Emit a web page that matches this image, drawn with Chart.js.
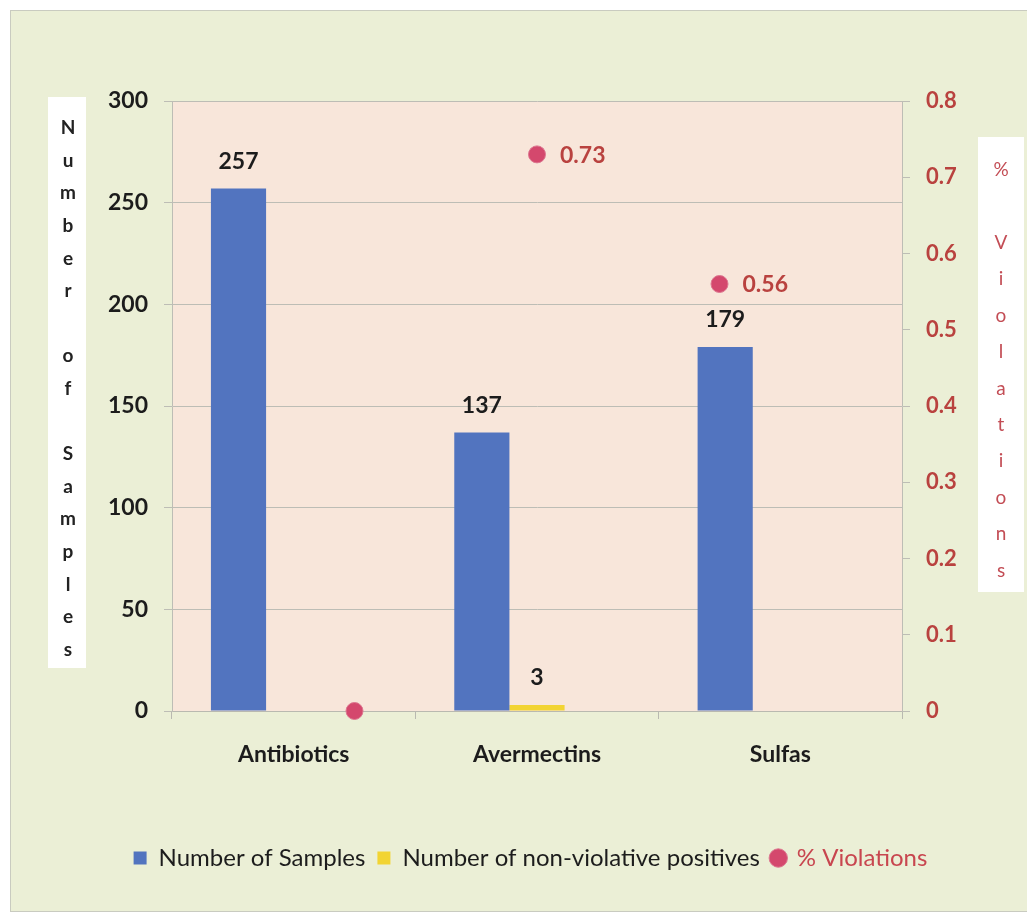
<!DOCTYPE html>
<html>
<head>
<meta charset="utf-8">
<script src="https://cdn.jsdelivr.net/npm/chart.js@4.4.1/dist/chart.umd.min.js"></script>
<style>
  html, body { margin: 0; padding: 0; background: #ffffff; }
  #wrap { position: absolute; left: 0; top: 0; width: 1027px; height: 917px; }
</style>
</head>
<body>
<div id="wrap"><canvas id="myChartCanvas" width="1027" height="917"></canvas></div>
<script>
let categories = ['Antibiotics', 'Avermectins', 'Sulfas'];
let samplesList = [257, 137, 179];
let positivesList = [0, 3, 0];
let violationsList = [0, 0.73, 0.56];
// where each dot sits along the category scale (index units)
let violationsPos = [0.25, 1, 1.75];

let leftTitle = ['N', 'u', 'm', 'b', 'e', 'r', '', 'o', 'f', '', 'S', 'a', 'm', 'p', 'l', 'e', 's'];
let rightTitle = ['%', '', 'V', 'i', 'o', 'l', 'a', 't', 'i', 'o', 'n', 's'];

let redText = '#b9423f';
let ctx;
let chart;

// backgrounds, white title boxes and the letter-by-letter axis titles
const backdrop = {
    id: 'backdrop',
    beforeDraw(c) {
        let g = c.ctx;
        let a = c.chartArea;
        g.save();
        g.fillStyle = '#ebefd6';
        g.fillRect(10, 10, 1017, 902);
        g.strokeStyle = '#c9cbc0';
        g.lineWidth = 1;
        g.strokeRect(10.5, 10.5, 1030, 901);
        g.fillStyle = '#f8e6da';
        g.fillRect(a.left, a.top, a.right - a.left, a.bottom - a.top);

        g.fillStyle = '#ffffff';
        g.fillRect(48, 97, 38, 571);
        g.fillRect(978, 137, 46, 455);

        g.textAlign = 'center';
        g.textBaseline = 'middle';
        g.font = 'bold 19px Lato';
        g.fillStyle = '#222222';
        leftTitle.forEach((ch, i) => g.fillText(ch, 68, 128 + i * 32.6));
        g.font = '19px Lato';
        g.fillStyle = '#c34d55';
        rightTitle.forEach((ch, i) => g.fillText(ch, 1001, 170 + i * 36.4));
        g.restore();
    }
};

// value labels above bars and beside the dots
const valueLabels = {
    id: 'valueLabels',
    afterDatasetsDraw(c) {
        let g = c.ctx;
        g.save();
        g.textBaseline = 'middle';
        g.font = 'bold 23px Lato';
        c.data.datasets.forEach((ds, di) => {
            let meta = c.getDatasetMeta(di);
            if (meta.hidden || ds.label === '') return;
            meta.data.forEach((el, i) => {
                let v = ds.type === 'line' ? ds.data[i].y : ds.data[i];
                if (!v) return;
                if (ds.type === 'line') {
                    g.fillStyle = redText;
                    g.textAlign = 'left';
                    g.fillText(v.toFixed(2), el.x + 23, el.y + 1);
                } else {
                    g.fillStyle = '#1c1c1c';
                    g.textAlign = 'center';
                    g.fillText(String(v), el.x, el.y - 27);
                }
            });
        });
        g.restore();
    }
};

ctx = document.getElementById('myChartCanvas').getContext('2d');
chart = new Chart(ctx, {
    type: 'bar',
    data: {
        labels: categories,
        datasets: [{
            label: 'Number of Samples',
            data: samplesList,
            backgroundColor: '#5274bf',
            yAxisID: 'y'
        }, {
            label: 'Number of non-violative positives',
            data: positivesList,
            backgroundColor: '#f2d433',
            yAxisID: 'y'
        }, {
            // keeps an empty third slot in each group
            label: '',
            data: [null, null, null],
            backgroundColor: 'rgba(0,0,0,0)',
            yAxisID: 'y'
        }, {
            type: 'line',
            label: '% Violations',
            parsing: false,
            data: violationsList.map((v, i) => ({ x: violationsPos[i], y: v })),
            yAxisID: 'y1',
            showLine: false,
            pointStyle: 'circle',
            pointRadius: 8.5,
            pointHoverRadius: 8.5,
            pointBackgroundColor: '#d4486d',
            pointBorderColor: '#dd7790',
            pointBorderWidth: 1,
            backgroundColor: '#d4486d',
            borderColor: '#dd7790',
            clip: false
        }]
    },
    options: {
        responsive: false,
        animation: false,
        events: [],
        datasets: {
            bar: {
                categoryPercentage: 0.68,
                barPercentage: 1.0
            }
        },
        layout: {
            padding: { top: 101, right: 0, bottom: 37, left: 34 }
        },
        scales: {
            x: {
                grid: {
                    display: true,
                    offset: true,
                    drawOnChartArea: false,
                    tickLength: 8,
                    color: '#b9b9b0'
                },
                border: { display: true, color: '#b9b9b0' },
                ticks: {
                    color: '#1c1c1c',
                    font: { family: 'Lato', size: 23, weight: 'bold' },
                    padding: 22
                },
                afterFit(s) { s.height = 123; }
            },
            y: {
                position: 'left',
                min: 0,
                max: 300,
                ticks: {
                    stepSize: 50,
                    color: '#1c1c1c',
                    font: { family: 'Lato', size: 23, weight: 'bold' },
                    padding: 16
                },
                grid: {
                    color: '#bdbdb5',
                    tickLength: 8
                },
                border: { display: true, color: '#bdbdb5' },
                afterFit(s) { s.width = 138; }
            },
            y1: {
                position: 'right',
                min: 0,
                max: 0.8,
                ticks: {
                    stepSize: 0.1,
                    color: redText,
                    font: { family: 'Lato', size: 22, weight: 'bold' },
                    padding: 16,
                    callback: v => String(Math.round(v * 10) / 10)
                },
                grid: {
                    drawOnChartArea: false,
                    color: '#bdbdb5',
                    tickLength: 8
                },
                border: { display: true, color: '#bdbdb5' },
                afterFit(s) { s.width = 125; }
            }
        },
        plugins: {
            legend: {
                position: 'bottom',
                labels: {
                    usePointStyle: true,
                    boxWidth: 13,
                    boxHeight: 13,
                    padding: 12,
                    font: { family: 'Lato', size: 24 },
                    color: '#1c1c1c',
                    filter: item => item.text !== '',
                    sort: (a, b) => a.datasetIndex - b.datasetIndex,
                    generateLabels(c) {
                        let items = Chart.defaults.plugins.legend.labels.generateLabels(c);
                        items.forEach(it => {
                            if (it.text === '% Violations') {
                                it.fontColor = '#c8464f';
                                it.pointStyle = 'circle';
                            } else {
                                it.pointStyle = 'rect';
                            }
                        });
                        return items;
                    }
                }
            },
            tooltip: { enabled: false }
        }
    },
    plugins: [backdrop, valueLabels]
});
</script>
</body>
</html>
